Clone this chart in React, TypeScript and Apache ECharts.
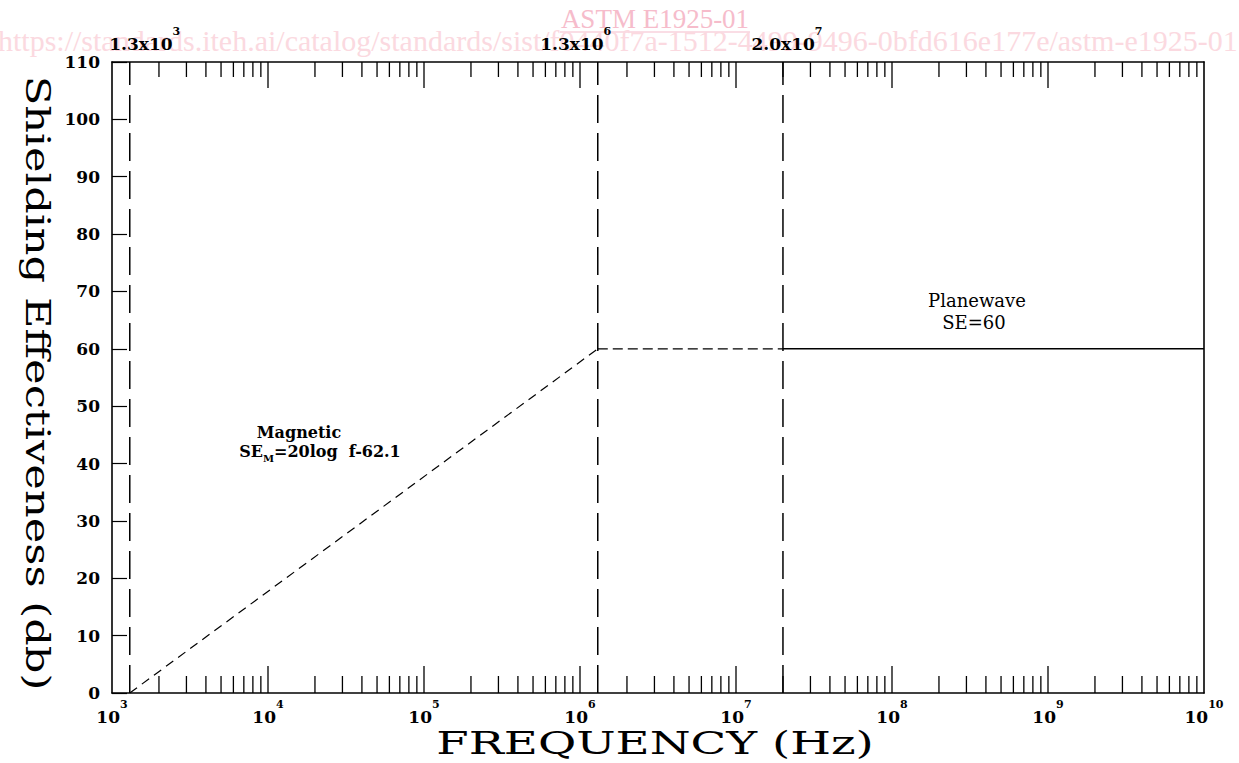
import React, { useEffect, useRef } from "react";
import * as echarts from "echarts";

// ---- data ----
const X_MIN = 1e3;
const X_MAX = 1e10;
const Y_MIN = 0;
const Y_MAX = 110;
const Y_STEP = 10;
const decadeExponents = [3, 4, 5, 6, 7, 8, 9];
const minorMultipliers = [2, 3, 4, 5, 6, 7, 8, 9];

const boundaryFreqs = [1.3e3, 1.3e6, 2.0e7];
const boundaryMantissa = ["1.3x10", "1.3x10", "2.0x10"];
const boundaryExponent = ["3", "6", "7"];

const magneticFreq = [1.3e3, 1.3e6];
const magneticSE = [0, 60];
const transitionFreq = [1.3e6, 2.0e7];
const transitionSE = [60, 60];
const planewaveFreq = [2.0e7, 1e10];
const planewaveSE = [60, 60];

const SERIF = '"DejaVu Serif", serif';
const TIMES = '"Liberation Serif", serif';

function pairs(xs: number[], ys: number[]) {
  return xs.map((x, i) => [x, ys[i]]);
}

function buildTicks() {
  const out: number[][] = [];
  decadeExponents.forEach((e) => {
    const base = Math.pow(10, e);
    if (e > decadeExponents[0]) out.push([base, 1]);
    minorMultipliers.forEach((m) => out.push([m * base, 0]));
  });
  return out;
}

function supRich(size: number) {
  return {
    b: {
      fontFamily: SERIF,
      fontWeight: "bold",
      fontSize: size,
      color: "#000",
      height: size,
      lineHeight: 27,
      verticalAlign: "bottom",
    },
    s: {
      fontFamily: SERIF,
      fontWeight: "bold",
      fontSize: 11,
      color: "#000",
      height: 12,
      lineHeight: 27,
      verticalAlign: "top",
    },
  };
}

export default function App() {
  const ref = useRef<HTMLDivElement>(null);

  useEffect(() => {
    if (!ref.current) return;
    const chart = echarts.init(ref.current, null, { renderer: "svg" });
    const axisLine = { show: true, onZero: false, lineStyle: { color: "#000", width: 1.6 } };

    const option: any = {
      animation: false,
      backgroundColor: "#fff",
      grid: { left: 112, right: 35, top: 62, bottom: 70 },
      xAxis: [
        {
          type: "log",
          logBase: 10,
          min: X_MIN,
          max: X_MAX,
          position: "bottom",
          axisLine,
          axisTick: { show: false },
          minorTick: { show: false },
          splitLine: { show: false },
          axisLabel: {
            margin: 5,
            formatter: (v: number) => `{b|10}{s|${Math.round(Math.log10(v))}}`,
            rich: supRich(17),
          },
        },
        {
          type: "log",
          logBase: 10,
          min: X_MIN,
          max: X_MAX,
          position: "top",
          axisLine,
          axisTick: { show: false },
          axisLabel: { show: false },
          splitLine: { show: false },
        },
      ],
      yAxis: [
        {
          type: "value",
          min: Y_MIN,
          max: Y_MAX,
          interval: Y_STEP,
          axisLine,
          axisTick: { show: true, inside: true, length: 15, lineStyle: { color: "#000", width: 1.2 } },
          axisLabel: { margin: 12, color: "#000", fontFamily: SERIF, fontWeight: "bold", fontSize: 17 },
          splitLine: { show: false },
        },
        {
          type: "value",
          min: Y_MIN,
          max: Y_MAX,
          interval: Y_STEP,
          position: "right",
          axisLine,
          axisTick: { show: false },
          axisLabel: { show: false },
          splitLine: { show: false },
        },
      ],
      series: [
        {
          type: "custom",
          silent: true,
          xAxisIndex: 0,
          yAxisIndex: 0,
          data: buildTicks(),
          encode: { x: 0, y: 1 },
          renderItem: (_p: any, api: any) => {
            const f = api.value(0);
            const major = api.value(1) === 1;
            const b = api.coord([f, Y_MIN]);
            const t = api.coord([f, Y_MAX]);
            const lb = major ? 27 : 17;
            const lt = major ? 26 : 15;
            const st = { stroke: "#000", lineWidth: 1.3 };
            return {
              type: "group",
              children: [
                { type: "line", shape: { x1: b[0], y1: b[1], x2: b[0], y2: b[1] - lb }, style: st },
                { type: "line", shape: { x1: t[0], y1: t[1], x2: t[0], y2: t[1] + lt }, style: st },
              ],
            };
          },
        },
        ...boundaryFreqs.map((f) => ({
          type: "line",
          silent: true,
          symbol: "none",
          data: [
            [f, Y_MIN],
            [f, Y_MAX],
          ],
          lineStyle: { color: "#000", width: 1.5, type: [28, 10] },
        })),
        {
          type: "line",
          silent: true,
          symbol: "none",
          data: pairs(magneticFreq, magneticSE),
          lineStyle: { color: "#000", width: 1.2, type: [9, 6] },
        },
        {
          type: "line",
          silent: true,
          symbol: "none",
          data: pairs(transitionFreq, transitionSE),
          lineStyle: { color: "#000", width: 1.3, type: [10, 5] },
        },
        {
          type: "line",
          silent: true,
          symbol: "none",
          data: pairs(planewaveFreq, planewaveSE),
          lineStyle: { color: "#000", width: 1.5 },
        },
      ],
    };
    chart.setOption(option);

    const labelDx = [15, -22, 4];
    const topLabels = boundaryFreqs.map((f, i) => {
      const px = chart.convertToPixel({ xAxisIndex: 0 }, f) as number;
      return {
        type: "text",
        x: px + labelDx[i],
        y: 25,
        style: {
          text: `{b|${boundaryMantissa[i]}}{s|${boundaryExponent[i]}}`,
          rich: supRich(17),
          textAlign: "center",
          align: "center",
          textVerticalAlign: "top",
          verticalAlign: "top",
        },
      };
    });

    const center = { textAlign: "center", align: "center", textVerticalAlign: "middle", verticalAlign: "middle" };

    chart.setOption({
      graphic: [
        {
          type: "text",
          z: -10,
          x: 655,
          y: 19,
          style: { text: "ASTM E1925-01", font: `27px ${TIMES}`, fill: "#f6bccb", ...center },
        },
        {
          type: "line",
          z: -10,
          shape: { x1: 560, y1: 32, x2: 750, y2: 32 },
          style: { stroke: "#f6bccb", lineWidth: 1.2 },
        },
        {
          type: "text",
          z: -10,
          x: -2,
          y: 40,
          style: {
            text: "https://standards.iteh.ai/catalog/standards/sist/f0440f7a-1512-4499-9496-0bfd616e177e/astm-e1925-01",
            font: `30px ${TIMES}`,
            fill: "#fbd9e0",
            textAlign: "left",
            align: "left",
            textVerticalAlign: "middle",
            verticalAlign: "middle",
          },
        },
        ...topLabels,
        {
          type: "text",
          x: 38,
          y: 383,
          rotation: -Math.PI / 2,
          scaleX: 1.27,
          style: { text: "Shielding Effectiveness (db)", font: `34px ${SERIF}`, fill: "#000", ...center },
        },
        {
          type: "text",
          x: 655,
          y: 743,
          scaleX: 1.46,
          style: { text: "FREQUENCY (Hz)", font: `32px ${SERIF}`, fill: "#000", ...center },
        },
        {
          type: "text",
          x: 299,
          y: 432,
          style: { text: "Magnetic", font: `bold 16px ${SERIF}`, fill: "#000", ...center },
        },
        {
          type: "text",
          x: 320,
          y: 443,
          style: {
            text: "{a|SE}{m|M}{a|=20log  f-62.1}",
            rich: {
              a: {
                fontFamily: SERIF,
                fontWeight: "bold",
                fontSize: 16,
                color: "#000",
                height: 16,
                lineHeight: 20,
                verticalAlign: "top",
              },
              m: {
                fontFamily: SERIF,
                fontWeight: "bold",
                fontSize: 10,
                color: "#000",
                height: 10,
                lineHeight: 20,
                verticalAlign: "bottom",
              },
            },
            textAlign: "center",
            align: "center",
            textVerticalAlign: "top",
            verticalAlign: "top",
          },
        },
        {
          type: "text",
          x: 977,
          y: 300,
          style: { text: "Planewave", font: `18px ${SERIF}`, fill: "#000", ...center },
        },
        {
          type: "text",
          x: 974,
          y: 322,
          style: { text: "SE=60", font: `18px ${SERIF}`, fill: "#000", ...center },
        },
      ],
    });

    return () => chart.dispose();
  }, []);

  return (
    <div
      ref={ref}
      style={{ position: "fixed", left: 0, top: 0, width: 1239, height: 763, background: "#fff" }}
    />
  );
}
